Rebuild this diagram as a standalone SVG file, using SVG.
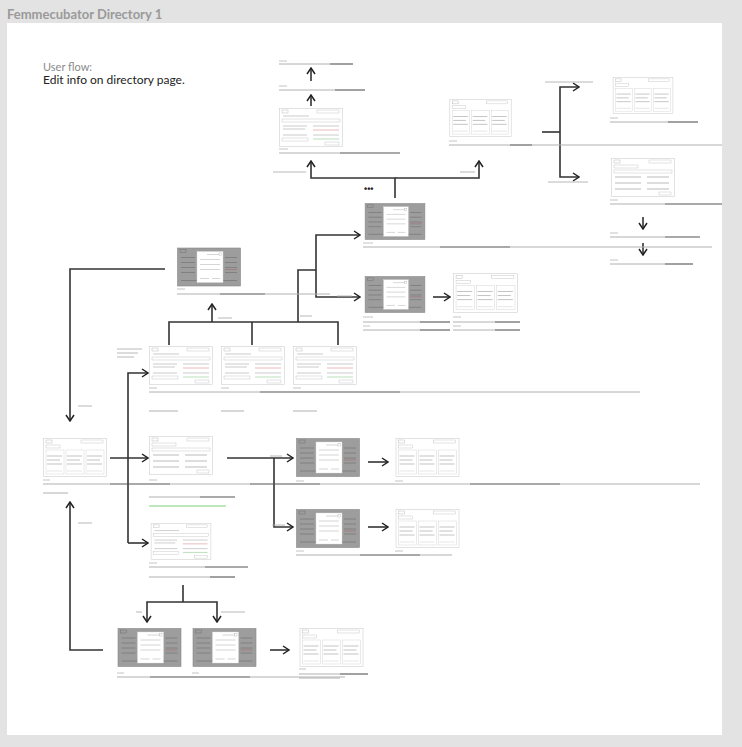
<svg xmlns="http://www.w3.org/2000/svg" width="742" height="747" viewBox="0 0 742 747">
<style>
.ttl{font-family:"Lato","Liberation Sans",sans-serif;font-weight:700;font-size:13px;fill:#9a9a9a}
.uf{font-family:"Lato","Liberation Sans",sans-serif;font-size:11px;fill:#8a8a8a}
.ed{font-family:"Lato","Liberation Sans",sans-serif;font-size:12px;fill:#222}
.dots{font-family:"Liberation Sans",sans-serif;font-size:9px;fill:#222;font-weight:700}
.cn{fill:none;stroke:#333;stroke-width:1.6}
.ar{marker-end:url(#ah)}
.cap{stroke:#c4c4c4;stroke-width:1}
.tx{stroke:#b0b0b0;stroke-width:1}
.bd{stroke:#555;stroke-width:1.1}
.gr{stroke:#7fd07f;stroke-width:1}
.lb{stroke:#b0b0b0;stroke-width:0.9}
</style>
<defs>
<marker id="ah" viewBox="0 0 8 10" refX="7" refY="5" markerWidth="8" markerHeight="10" markerUnits="userSpaceOnUse" orient="auto">
<path d="M1,1 L7,5 L1,9" fill="none" stroke="#222" stroke-width="1.5"/>
</marker>
<symbol id="wf" viewBox="0 0 64 39" overflow="visible">
<rect x="0.5" y="0.5" width="63" height="38" fill="#fff" stroke="#cfcfcf" stroke-width="0.6"/>
<rect x="3" y="2" width="6" height="3" fill="none" stroke="#aaa" stroke-width="0.4"/>
<rect x="38" y="2" width="22" height="3" fill="none" stroke="#bbb" stroke-width="0.4"/>
<rect x="3" y="7" width="14" height="3" fill="none" stroke="#bbb" stroke-width="0.4"/>
<rect x="3" y="12" width="18" height="24" fill="none" stroke="#ccc" stroke-width="0.4"/>
<rect x="23" y="12" width="18" height="24" fill="none" stroke="#ccc" stroke-width="0.4"/>
<rect x="43" y="12" width="18" height="24" fill="none" stroke="#ccc" stroke-width="0.4"/>
<path d="M4,18H19M4,22H17M4,26H19M24,18H39M24,22H37M24,26H39M44,18H59M44,22H57M44,26H59" stroke="#aaa" stroke-width="0.7"/>
<path d="M4,33H19M24,33H39M44,33H59" stroke="#ccc" stroke-width="0.5"/>
</symbol>
<symbol id="wf2" viewBox="0 0 64 39" overflow="visible">
<rect x="0.5" y="0.5" width="63" height="38" fill="#fff" stroke="#cfcfcf" stroke-width="0.6"/>
<rect x="3" y="2" width="6" height="3" fill="none" stroke="#aaa" stroke-width="0.4"/>
<rect x="38" y="2" width="22" height="3" fill="none" stroke="#bbb" stroke-width="0.4"/>
<path d="M4,8H30" stroke="#aaa" stroke-width="0.6"/>
<rect x="3" y="11" width="58" height="3" fill="none" stroke="#bbb" stroke-width="0.4"/>
<path d="M4,18H28M4,21H26M4,27H28M34,18H60M34,27H60" stroke="#aaa" stroke-width="0.6"/>
<path d="M34,22H60" stroke="#e08a8a" stroke-width="0.6"/>
<path d="M34,31H60" stroke="#8ac98a" stroke-width="0.6"/>
<rect x="3" y="30" width="26" height="3" fill="none" stroke="#bbb" stroke-width="0.4"/>
<rect x="46" y="34" width="14" height="3" fill="none" stroke="#bbb" stroke-width="0.4"/>
</symbol>
<symbol id="wf3" viewBox="0 0 64 39" overflow="visible">
<rect x="0.5" y="0.5" width="63" height="38" fill="#fff" stroke="#cfcfcf" stroke-width="0.6"/>
<rect x="3" y="2" width="6" height="3" fill="none" stroke="#aaa" stroke-width="0.4"/>
<rect x="38" y="2" width="22" height="3" fill="none" stroke="#bbb" stroke-width="0.4"/>
<rect x="3" y="7" width="24" height="3" fill="none" stroke="#bbb" stroke-width="0.4"/>
<rect x="3" y="12" width="58" height="3" fill="none" stroke="#bbb" stroke-width="0.4"/>
<path d="M4,19H30M36,19H58M4,25H30M36,25H58M4,31H30M36,31H58" stroke="#aaa" stroke-width="0.8"/>
<rect x="48" y="34" width="12" height="3" fill="none" stroke="#bbb" stroke-width="0.4"/>
</symbol>
<symbol id="gm" viewBox="0 0 64 39" overflow="visible">
<rect x="0.5" y="0.5" width="63" height="38" fill="#9d9d9d" stroke="#888" stroke-width="0.6"/>
<rect x="3" y="2" width="6" height="3" fill="none" stroke="#666" stroke-width="0.4"/>
<path d="M4,10H18M4,15H18M4,20H18M4,25H18M48,10H60M48,15H60M48,20H60M48,25H60M4,33H60" stroke="#7a7a7a" stroke-width="0.8"/>
<path d="M48,22H60" stroke="#a06060" stroke-width="0.5"/>
<rect x="20" y="4" width="26" height="31" fill="#fff" stroke="#ddd" stroke-width="0.4"/>
<path d="M30,7H42M23,12H43M23,17H43M23,22H43M23,31H32M35,31H43" stroke="#bbb" stroke-width="0.6"/>
<rect x="42" y="5.5" width="2.5" height="2.5" fill="none" stroke="#999" stroke-width="0.3"/>
</symbol>
</defs>

<rect x="0" y="0" width="742" height="747" fill="#e3e3e3"/>
<text class="ttl" x="7" y="19">Femmecubator Directory 1</text>
<rect x="7" y="23" width="715" height="712" fill="#fff"/>
<text class="uf" x="43" y="71">User flow:</text>
<text class="ed" x="43" y="84">Edit info on directory page.</text>

<g id="connectors">
<path class="cn ar" d="M311,81 V68"/>
<path class="cn ar" d="M311,106 V95"/>
<path class="cn ar" d="M395,198 V178 H311 V161"/>
<path class="cn ar" d="M395,178 H479 V161"/>
<path class="cn" d="M542,132 H560"/>
<path class="cn ar" d="M560,132 V87 H579"/>
<path class="cn ar" d="M560,132 V177 H579"/>
<path class="cn ar" d="M643,217 V229"/>
<path class="cn ar" d="M643,243 V255"/>
<path class="cn ar" d="M165,269 H70 V421"/>
<path class="cn" d="M169,345 V322 H338 V345"/>
<path class="cn" d="M252,322 V345"/>
<path class="cn ar" d="M212,322 V304"/>
<path class="cn" d="M298,322 V270 H316"/>
<path class="cn ar" d="M316,270 V235 H360"/>
<path class="cn ar" d="M316,270 V297 H360"/>
<path class="cn ar" d="M433,297 H450"/>
<path class="cn ar" d="M128,543 V373 H148"/>
<path class="cn ar" d="M128,543 H148"/>
<path class="cn ar" d="M110,458 H148"/>
<path class="cn ar" d="M227,458 H293"/>
<path class="cn ar" d="M274,458 V527 H293"/>
<path class="cn ar" d="M368,462 H388"/>
<path class="cn ar" d="M368,527 H388"/>
<path class="cn" d="M183,585 V602"/>
<path class="cn ar" d="M183,602 H147 V622"/>
<path class="cn ar" d="M183,602 H217 V622"/>
<path class="cn ar" d="M103,650 H70 V502"/>
<path class="cn ar" d="M270,650 H289"/>
<text class="dots" x="364" y="192">•••</text>
</g>

<g id="labels">
<path class="lb" d="M273,172H306M460,172H475M545,82H593M548,182H588M218,318H232M300,316H312M337,296H352M78,406H92M78,523H92M270,456H282M272,525H285M136,612H142M221,612H245"/>
<path class="lb" d="M117,349H142M117,353H138M117,357H134"/>
</g>

<g id="n-top3"><path class="cap" d="M279,61H287"/><path class="tx" d="M279,64H330"/><path class="bd" d="M330,64H353"/></g>
<g id="n-top2"><path class="cap" d="M279,86H287"/><path class="tx" d="M279,90H335"/><path class="bd" d="M335,90H365"/></g>
<g id="n-step41"><use href="#wf2" x="279" y="108" width="64" height="39"/><path class="cap" d="M279,149H288"/><path class="tx" d="M279,153H340"/><path class="bd" d="M340,153H400"/></g>
<g id="n-step4"><use href="#wf" x="448" y="99" width="65" height="38"/><path class="cap" d="M449,141H457"/><path class="tx" d="M449,145H510"/><path class="bd" d="M510,145H532"/><path class="tx" d="M532,145H722"/></g>
<g id="n-r1"><use href="#wf" x="610" y="77" width="66" height="37"/><path class="cap" d="M610,118H618"/><path class="tx" d="M610,122H668"/><path class="bd" d="M668,122H698"/></g>
<g id="n-r2"><use href="#wf3" x="610" y="158" width="66" height="39"/><path class="cap" d="M610,200H618"/><path class="tx" d="M610,204H665"/><path class="bd" d="M665,204H722"/></g>
<g id="n-r3"><path class="cap" d="M610,233H618"/><path class="tx" d="M610,237H665"/><path class="bd" d="M665,237H700"/></g>
<g id="n-r4"><path class="cap" d="M610,260H618"/><path class="tx" d="M610,264H665"/><path class="bd" d="M665,264H693"/></g>

<g id="n-step5"><use href="#gm" x="363" y="203" width="64" height="37"/><path class="cap" d="M363,243H373"/><path class="tx" d="M363,247H440"/><path class="bd" d="M440,247H510"/><path class="tx" d="M510,247H712"/></g>
<g id="n-step5b"><use href="#gm" x="363" y="276" width="64" height="37"/><path class="cap" d="M363,317H373"/><path class="tx" d="M363,322H420"/><path class="bd" d="M420,322H450"/><path class="cap" d="M363,326H370"/><path class="tx" d="M363,330H420"/><path class="bd" d="M420,330H450"/></g>
<g id="n-step6"><use href="#wf" x="453" y="273" width="65" height="40"/><path class="cap" d="M453,317H461"/><path class="tx" d="M453,322H495"/><path class="bd" d="M495,322H520"/><path class="cap" d="M453,326H461"/><path class="tx" d="M453,330H495"/><path class="bd" d="M495,330H520"/></g>
<g id="n-step31"><use href="#gm" x="177" y="247" width="64" height="40"/><path class="cap" d="M177,289H185"/><path class="tx" d="M177,294H220"/><path class="bd" d="M220,294H265"/><path class="tx" d="M265,294H330"/></g>

<g id="n-s21"><use href="#wf2" x="149" y="346" width="64" height="39"/><path class="cap" d="M149,388H157"/><path class="tx" d="M149,411H178"/></g>
<g id="n-s22"><use href="#wf2" x="221" y="346" width="64" height="39"/><path class="cap" d="M221,388H229"/><path class="tx" d="M221,411H244"/></g>
<g id="n-s23"><use href="#wf2" x="293" y="346" width="64" height="39"/><path class="cap" d="M293,388H301"/><path class="tx" d="M293,411H317"/></g>
<g id="n-s2text"><path class="tx" d="M149,392H260"/><path class="bd" d="M260,392H400"/><path class="tx" d="M400,392H640"/></g>

<g id="n-home"><use href="#wf" x="43" y="438" width="64" height="39"/><path class="cap" d="M43,480H50"/><path class="tx" d="M43,484H110"/><path class="bd" d="M110,484H170"/><path class="tx" d="M170,484H250"/><path class="tx" d="M43,493H68"/></g>
<g id="n-s1"><use href="#wf3" x="149" y="436" width="64" height="39"/><path class="cap" d="M149,480H157"/><path class="bd" d="M250,484H320"/><path class="tx" d="M320,484H470"/><path class="bd" d="M470,484H560"/><path class="tx" d="M560,484H700"/><path class="tx" d="M149,497H200"/><path class="bd" d="M200,497H235"/><path class="gr" d="M149,506H226"/></g>
<g id="n-s1b"><use href="#wf2" x="149" y="523" width="64" height="37"/><path class="cap" d="M149,563H157"/><path class="tx" d="M149,567H205"/><path class="bd" d="M205,567H248"/><path class="tx" d="M149,577H210"/><path class="bd" d="M210,577H235"/></g>
<g id="n-g1"><use href="#gm" x="296" y="438" width="64" height="39"/><path class="cap" d="M296,481H304"/></g>
<g id="n-w1"><use href="#wf" x="395" y="438" width="65" height="39"/><path class="cap" d="M395,481H403"/></g>
<g id="n-g2"><use href="#gm" x="296" y="509" width="64" height="39"/><path class="cap" d="M296,551H304"/><path class="tx" d="M296,555H360"/><path class="bd" d="M360,555H420"/><path class="tx" d="M420,555H452"/></g>
<g id="n-w2"><use href="#wf" x="395" y="509" width="65" height="39"/><path class="cap" d="M395,551H403"/></g>

<g id="n-b1"><use href="#gm" x="117" y="628" width="65" height="39"/><path class="cap" d="M117,673H124"/><path class="tx" d="M117,677H150"/><path class="bd" d="M150,677H250"/><path class="tx" d="M250,677H345"/></g>
<g id="n-b2"><use href="#gm" x="192" y="628" width="65" height="39"/><path class="cap" d="M192,673H199"/></g>
<g id="n-b3"><use href="#wf" x="299" y="628" width="65" height="39"/><path class="cap" d="M299,669H306"/><path class="tx" d="M299,674H340"/><path class="bd" d="M340,674H368"/><path class="tx" d="M299,678H340"/></g>
</svg>
